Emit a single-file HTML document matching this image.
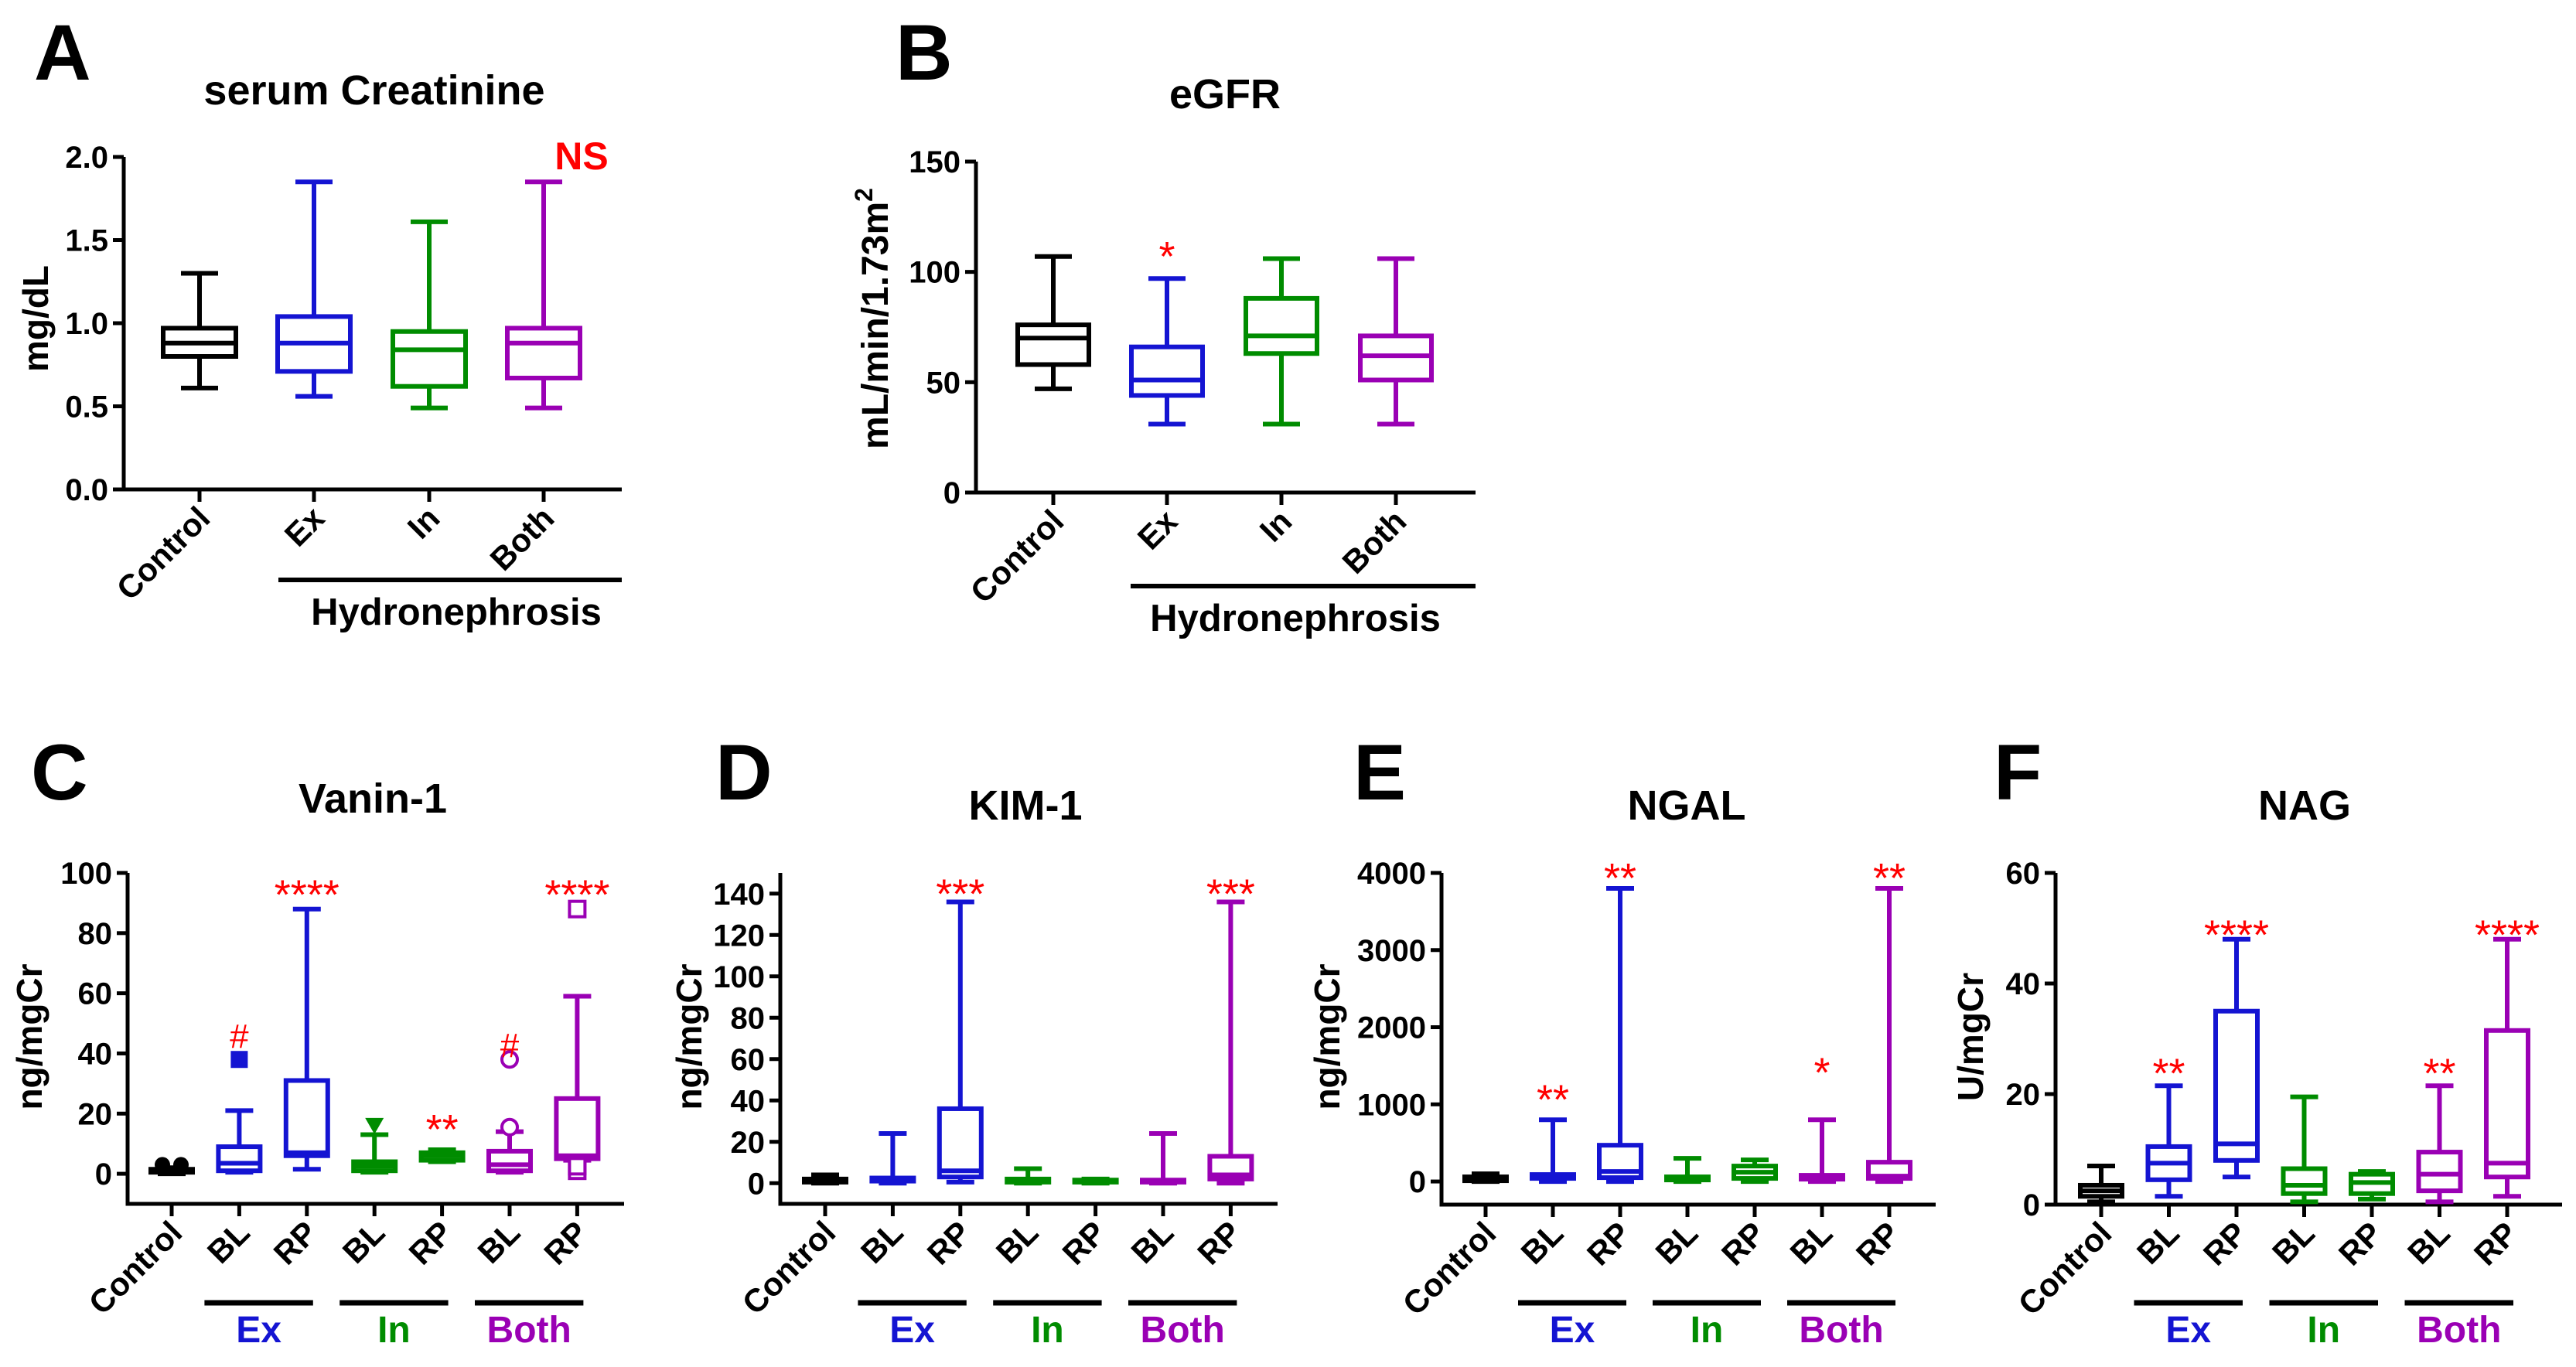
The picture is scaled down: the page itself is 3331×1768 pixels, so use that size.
<!DOCTYPE html>
<html><head><meta charset="utf-8"><style>
html,body{margin:0;padding:0;background:#fff;}
svg{display:block;font-family:"Liberation Sans",Arial,sans-serif;font-weight:bold;}
</style></head><body>
<svg id="fig" xmlns="http://www.w3.org/2000/svg" width="3331" height="1768" viewBox="0 0 3331 1768"></svg>
<script>
// ---- data arrays: [min, q1, median, q3, max] ----
const A_cats = ["Control","Ex","In","Both"];
const A_box = [[0.61,0.80,0.88,0.97,1.30],[0.56,0.71,0.88,1.04,1.85],[0.49,0.62,0.84,0.95,1.61],[0.49,0.67,0.88,0.97,1.85]];
const A_ticks = [0,0.5,1.0,1.5,2.0];
const A_tickLabels = ["0.0","0.5","1.0","1.5","2.0"];

const B_cats = ["Control","Ex","In","Both"];
const B_box = [[47,58,70,76,107],[31,44,51,66,97],[31,63,71,88,106],[31,51,62,71,106]];
const B_ticks = [0,50,100,150];

const sub_cats = ["Control","BL","RP","BL","RP","BL","RP"];

const C_box = [[0,0.5,1,1.5,2],[0.5,1,3.5,9,21],[1.5,6,7,31,88],[0.5,1,2.5,4,13],[4,4.5,6,7,8],[0.5,1,3,7.5,14],[4.5,5,6,25,59]];
const C_ticks = [0,20,40,60,80,100];
const C_outX = [0,0,1,3,5,5,6,6,6];
const C_outV = [3,3,38,16,15.5,38,88,1,2.5];
const C_outShape = ["dotL","dotR","sqF","triF","circO","circO","sqO","sqO","sqO"];
const C_annX = [1,2,4,5,6];
const C_annV = [46,95,17,43,95];
const C_annT = ["#","****","**","#","****"];

const D_box = [[0,0.5,1,2,4],[0,1,1.5,2.5,24],[0.5,3,6,36,136],[0,0.5,1,2,7],[0,0.5,1,1.5,2],[0,0.5,1,1.5,24],[0,2,4,13,136]];
const D_ticks = [0,20,40,60,80,100,120,140];
const D_annX = [2,6];
const D_annV = [143,143];
const D_annT = ["***","***"];

const E_box = [[0,10,30,60,100],[0,40,60,90,800],[0,50,130,470,3800],[0,20,40,60,300],[0,40,120,200,280],[0,30,50,80,800],[0,40,70,250,3800]];
const E_ticks = [0,1000,2000,3000,4000];
const E_annX = [1,2,5,6];
const E_annV = [1150,4020,1500,4020];
const E_annT = ["**","**","*","**"];

const F_box = [[0.5,1.5,2.5,3.5,7],[1.5,4.5,7.5,10.5,21.5],[5,8,11,35,48],[0.5,2,3.5,6.5,19.5],[1,2,4,5.5,6],[0.5,2.5,5.5,9.5,21.5],[1.5,5,7.5,31.5,48]];
const F_ticks = [0,20,40,60];
const F_annX = [1,2,5,6];
const F_annV = [25,50,25,50];
const F_annT = ["**","****","**","****"];

// ---- drawing ----
const NS="http://www.w3.org/2000/svg";
const svg=document.getElementById('fig');
const BLK="#000",BLU="#1414d2",GRN="#008c00",PUR="#9a00b4",RED="#ff0000";
function el(tag,attrs,parent){const e=document.createElementNS(NS,tag);for(const k in attrs)e.setAttribute(k,attrs[k]);(parent||svg).appendChild(e);return e;}
function txt(s,attrs,parent){const t=el('text',attrs,parent);t.textContent=s;return t;}

function makeScale(v0,y0,v1,y1){return v=>y0+(v-v0)*(y1-y0)/(v1-v0);}

function panel(o){
  const g=el('g',{});
  
  
  const y=makeScale(o.vA,o.yA,o.vB,o.yB);
  const L=txt(o.letter,{x:o.letterX,y:o.letterY,'font-size':102,fill:BLK},g);
  
  
  const T=txt(o.title,{x:o.titleX,y:o.titleY,'font-size':54,'text-anchor':'middle',fill:BLK},g);
  
  
  const yl=el('text',{x:0,y:0,'font-size':o.ylabFont||46,'text-anchor':'middle',fill:BLK,transform:`translate(${o.ylabX},${o.ylabY}) rotate(-90)`},g);
  
  
  if(o.ylabSup){yl.textContent=o.ylab;const s=el('tspan',{dy:-20,'font-size':32},yl);s.textContent=o.ylabSup;}
  else yl.textContent=o.ylab;
  const ax=el('path',{d:`M${o.x0},${o.yTop}V${o.yBot}H${o.x1}`,stroke:BLK,'stroke-width':5,fill:'none'},g);
  
  
  o.ticks.forEach((t,i)=>{
    el('line',{x1:o.x0-14,x2:o.x0,y1:y(t),y2:y(t),stroke:BLK,'stroke-width':5},g);
    const tl=txt(o.tickLabels?o.tickLabels[i]:String(t),{x:o.x0-20,y:y(t)+14,'font-size':40,'text-anchor':'end',fill:BLK},g);
    
    
  });
  o.box.forEach((b,i)=>{
    const cx=o.cx[i],c=o.colors[i],hw=o.hw,cw=o.capW;
    const bg=el('g',{stroke:c,'stroke-width':6,fill:'none'},g);
    
    
    el('line',{x1:cx,x2:cx,y1:y(b[0]),y2:y(b[1])},bg);
    el('line',{x1:cx,x2:cx,y1:y(b[3]),y2:y(b[4])},bg);
    el('line',{x1:cx-cw,x2:cx+cw,y1:y(b[0]),y2:y(b[0])},bg);
    el('line',{x1:cx-cw,x2:cx+cw,y1:y(b[4]),y2:y(b[4])},bg);
    el('rect',{x:cx-hw,y:y(b[3]),width:2*hw,height:Math.max(0.5,y(b[1])-y(b[3]))},bg);
    el('line',{x1:cx-hw,x2:cx+hw,y1:y(b[2]),y2:y(b[2])},bg);
    el('line',{x1:cx,x2:cx,y1:o.yBot,y2:o.yBot+16,stroke:BLK,'stroke-width':5},g);
    const lx=cx+16,ly=o.yBot+40;
    const cl=txt(o.cats[i],{x:0,y:0,'font-size':o.catFont,'text-anchor':'end',fill:BLK,transform:`translate(${lx},${ly}) rotate(-45)`},g);
    
    
  });
  if(o.outX){o.outX.forEach((k,j)=>{
    const cx=o.cx[k],c=o.colors[k],yy=y(o.outV[j]),sh=o.outShape[j];let m;
    if(sh==='dotL')m=el('circle',{cx:cx-12,cy:yy,r:10,fill:c},g);
    else if(sh==='dotR')m=el('circle',{cx:cx+12,cy:yy,r:10,fill:c},g);
    else if(sh==='sqF')m=el('rect',{x:cx-11,y:yy-11,width:22,height:22,fill:c},g);
    else if(sh==='triF')m=el('path',{d:`M${cx-12},${yy-10}H${cx+12}L${cx},${yy+11}Z`,fill:c},g);
    else if(sh==='circO')m=el('circle',{cx:cx,cy:yy,r:10,fill:'#fff',stroke:c,'stroke-width':4},g);
    else m=el('rect',{x:cx-10,y:yy-10,width:20,height:20,fill:'#fff',stroke:c,'stroke-width':4},g);
    
    
  });}
  if(o.annX){o.annX.forEach((k,j)=>{
    const s=o.annT[j];const isHash=s==='#';
    const a=txt(s,{x:o.cx[k],y:y(o.annV[j])+(isHash?16:27),'font-size':isHash?44:54,'font-weight':'normal','text-anchor':'middle',fill:RED},g);
    
    
  });}
  if(o.groups){o.groups.forEach(gr=>{
    const a=o.cx[gr.i]-45,b=o.cx[gr.i+1]+8;
    const gl=el('line',{x1:a,x2:b,y1:1685,y2:1685,stroke:BLK,'stroke-width':7},g);
    
    
    const gt=txt(gr.t,{x:(a+b)/2,y:1736,'font-size':48,'text-anchor':'middle',fill:gr.c},g);
    
    
  });}
  if(o.hydro){
    const h=o.hydro;
    const hl=el('line',{x1:h.a,x2:h.b,y1:h.y,y2:h.y,stroke:BLK,'stroke-width':6},g);
    
    
    const ht=txt('Hydronephrosis',{x:h.tx,y:h.ty,'font-size':49,'text-anchor':'middle',fill:BLK},g);
    
    
  }
  return y;
}
const col4=[BLK,BLU,GRN,PUR];
const col7=[BLK,BLU,BLU,GRN,GRN,PUR,PUR];
const grp=[{i:1,t:"Ex",c:BLU},{i:3,t:"In",c:GRN},{i:5,t:"Both",c:PUR}];
function cxs(start,step){return sub_cats.map((_,i)=>start+i*step);}

panel({name:'panel-a-creatinine',letter:'A',letterX:44,letterY:103,title:'serum Creatinine',titleX:484,titleY:135,
  ylab:'mg/dL',ylabX:62,ylabY:412,x0:160,x1:804,yTop:203,yBot:633,vA:0,yA:633,vB:2,yB:203,
  ticks:A_ticks,tickLabels:A_tickLabels,box:A_box,cats:A_cats,cx:[258,406,555,703],colors:col4,hw:47,capW:24,catFont:42,
  hydro:{a:360,b:804,y:750,tx:590,ty:808}});
const ns=txt('NS',{x:752,y:219,'font-size':50,'text-anchor':'middle',fill:RED});



panel({name:'panel-b-egfr',letter:'B',letterX:1158,letterY:103,title:'eGFR',titleX:1584,titleY:140,
  ylab:'mL/min/1.73m',ylabSup:'2',ylabFont:48,ylabX:1148,ylabY:412,x0:1262,x1:1908,yTop:209,yBot:637,vA:0,yA:637,vB:150,yB:209,
  ticks:B_ticks,box:B_box,cats:B_cats,cx:[1362,1509,1657,1805],colors:col4,hw:46,capW:24,catFont:42,
  annX:[1],annV:[110],annT:["*"],
  hydro:{a:1462,b:1908,y:758,tx:1675,ty:816}});

panel({name:'panel-c-vanin1',letter:'C',letterX:40,letterY:1034,title:'Vanin-1',titleX:482,titleY:1051,
  ylab:'ng/mgCr',ylabX:54,ylabY:1341,x0:165,x1:807,yTop:1129,yBot:1557,vA:-10,yA:1557,vB:100,yB:1129,
  ticks:C_ticks,box:C_box,cats:sub_cats,cx:cxs(222,87.4),colors:col7,hw:27,capW:18,catFont:42,
  outX:C_outX,outV:C_outV,outShape:C_outShape,annX:C_annX,annV:C_annV,annT:C_annT,groups:grp});

panel({name:'panel-d-kim1',letter:'D',letterX:925,letterY:1034,title:'KIM-1',titleX:1326,titleY:1060,
  ylab:'ng/mgCr',ylabX:907,ylabY:1341,x0:1009,x1:1652,yTop:1129,yBot:1557,vA:-10,yA:1557,vB:150,yB:1129,
  ticks:D_ticks,box:D_box,cats:sub_cats,cx:cxs(1067,87.4),colors:col7,hw:27,capW:18,catFont:42,
  annX:D_annX,annV:D_annV,annT:D_annT,groups:grp});

panel({name:'panel-e-ngal',letter:'E',letterX:1750,letterY:1034,title:'NGAL',titleX:2181,titleY:1060,
  ylab:'ng/mgCr',ylabX:1732,ylabY:1341,x0:1864,x1:2503,yTop:1129,yBot:1558,vA:-300,yA:1558,vB:4000,yB:1129,
  ticks:E_ticks,box:E_box,cats:sub_cats,cx:cxs(1921,87),colors:col7,hw:27,capW:18,catFont:42,
  annX:E_annX,annV:E_annV,annT:E_annT,groups:grp});

panel({name:'panel-f-nag',letter:'F',letterX:2578,letterY:1034,title:'NAG',titleX:2980,titleY:1060,
  ylab:'U/mgCr',ylabX:2564,ylabY:1341,x0:2658,x1:3313,yTop:1129,yBot:1558,vA:0,yA:1558,vB:60,yB:1129,
  ticks:F_ticks,box:F_box,cats:sub_cats,cx:cxs(2717,87.5),colors:col7,hw:27,capW:18,catFont:42,
  annX:F_annX,annV:F_annV,annT:F_annT,groups:grp});
</script>
</body></html>
